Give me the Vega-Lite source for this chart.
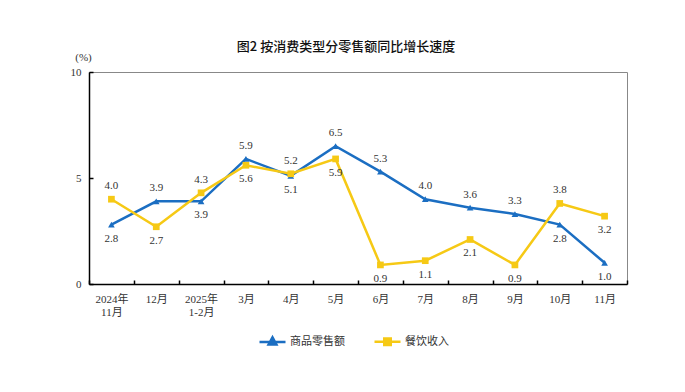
{
  "$schema": "https://vega.github.io/schema/vega-lite/v6.json",
  "width": 538,
  "height": 212,
  "autosize": {"type": "none"},
  "padding": {"left": 89, "top": 72, "right": 58, "bottom": 108},
  "background": "white",
  "title": {"text": "图2  按消费类型分零售额同比增长速度", "font": "Noto Sans CJK SC", "fontSize": 13, "fontWeight": 500, "color": "#111", "anchor": "middle", "dx": -12, "offset": -3},
  "config": {"view": {"stroke": "#888", "strokeWidth": 1}, "axis": {"grid": false}},
  "data": {"values": [
    {"month": "2024年|11月", "series": "商品零售额", "value": 2.8},
    {"month": "12月", "series": "商品零售额", "value": 3.9},
    {"month": "2025年|1-2月", "series": "商品零售额", "value": 3.9},
    {"month": "3月", "series": "商品零售额", "value": 5.9},
    {"month": "4月", "series": "商品零售额", "value": 5.1},
    {"month": "5月", "series": "商品零售额", "value": 6.5},
    {"month": "6月", "series": "商品零售额", "value": 5.3},
    {"month": "7月", "series": "商品零售额", "value": 4.0},
    {"month": "8月", "series": "商品零售额", "value": 3.6},
    {"month": "9月", "series": "商品零售额", "value": 3.3},
    {"month": "10月", "series": "商品零售额", "value": 2.8},
    {"month": "11月", "series": "商品零售额", "value": 1.0},
    {"month": "2024年|11月", "series": "餐饮收入", "value": 4.0},
    {"month": "12月", "series": "餐饮收入", "value": 2.7},
    {"month": "2025年|1-2月", "series": "餐饮收入", "value": 4.3},
    {"month": "3月", "series": "餐饮收入", "value": 5.6},
    {"month": "4月", "series": "餐饮收入", "value": 5.2},
    {"month": "5月", "series": "餐饮收入", "value": 5.9},
    {"month": "6月", "series": "餐饮收入", "value": 0.9},
    {"month": "7月", "series": "餐饮收入", "value": 1.1},
    {"month": "8月", "series": "餐饮收入", "value": 2.1},
    {"month": "9月", "series": "餐饮收入", "value": 0.9},
    {"month": "10月", "series": "餐饮收入", "value": 3.8},
    {"month": "11月", "series": "餐饮收入", "value": 3.2}
  ]},
  "encoding": {
    "x": {"field": "month", "type": "nominal", "sort": null,
      "scale": {"type": "band", "paddingInner": 0, "paddingOuter": 0},
      "axis": {"title": null, "labelAngle": 0, "labelExpr": "split(datum.label, '|')", "labelLineHeight": 13,
        "labelFont": "Liberation Serif, Noto Sans CJK SC", "labelFontSize": 11, "labelColor": "#333",
        "domainColor": "#000", "domainWidth": 1.5, "tickColor": "#000", "tickWidth": 1.5, "tickBand": "extent", "tickSize": -4, "labelPadding": 13}},
    "y": {"field": "value", "type": "quantitative",
      "scale": {"domain": [0, 10], "nice": false},
      "axis": {"values": [0, 5, 10], "title": "(%)", "titleAngle": 0, "titleX": -6, "titleY": -15, "titleAlign": "center", "titleBaseline": "middle",
        "titleFont": "Liberation Serif", "titleFontSize": 11, "titleFontWeight": "normal", "titleColor": "#333",
        "labelFont": "Liberation Serif", "labelFontSize": 11, "labelColor": "#333",
        "domainColor": "#000", "domainWidth": 1.5, "tickColor": "#000", "tickWidth": 1.5, "tickSize": -4, "labelPadding": 12}}
  },
  "layer": [
    {"mark": {"type": "line", "strokeWidth": 2.5},
      "encoding": {"color": {"field": "series", "type": "nominal",
        "scale": {"domain": ["商品零售额", "餐饮收入"], "range": ["#1b6ec2", "#f6c915"]},
        "legend": {"orient": "none", "legendX": 169, "legendY": 255, "direction": "horizontal", "title": null, "padding": 0,
          "symbolSize": 676, "symbolStrokeWidth": 2.5, "labelFont": "Noto Sans CJK SC", "labelFontSize": 11, "labelColor": "#333", "labelOffset": 3, "columnPadding": 24,
          "encode": {"symbols": {"update": {
            "shape": {"signal": "datum.value == '商品零售额' ? 'M -1 0 L 1 0 M 0 -0.35 L 0.3 0.2 L -0.3 0.2 Z' : 'M -1 0 L 1 0 M -0.25 -0.25 L 0.25 -0.25 L 0.25 0.25 L -0.25 0.25 Z'"},
            "fill": {"signal": "datum.value == '商品零售额' ? '#1b6ec2' : '#f6c915'"},
            "stroke": {"signal": "datum.value == '商品零售额' ? '#1b6ec2' : '#f6c915'"},
            "strokeWidth": {"value": 2.5},
            "opacity": {"value": 1}}}}}}}},
    {"transform": [{"filter": "datum.series == '商品零售额'"}],
      "mark": {"type": "point", "filled": true, "opacity": 1, "size": 45, "shape": "triangle-up", "color": "#1b6ec2"}},
    {"transform": [{"filter": "datum.series == '餐饮收入'"}],
      "mark": {"type": "point", "filled": true, "opacity": 1, "size": 45, "shape": "square", "color": "#f6c915"}},
    {"transform": [
        {"joinaggregate": [{"op": "max", "field": "value", "as": "mx"}], "groupby": ["month"]},
        {"filter": "datum.value == datum.mx && datum.month != '11月'"}],
      "mark": {"type": "text", "dy": -13, "font": "Liberation Serif", "fontSize": 11, "color": "#333"},
      "encoding": {"text": {"field": "value", "type": "quantitative", "format": ".1f"}}},
    {"transform": [
        {"joinaggregate": [{"op": "max", "field": "value", "as": "mx"}], "groupby": ["month"]},
        {"filter": "!(datum.value == datum.mx && datum.month != '11月')"}],
      "mark": {"type": "text", "dy": 14, "font": "Liberation Serif", "fontSize": 11, "color": "#333"},
      "encoding": {"text": {"field": "value", "type": "quantitative", "format": ".1f"}}}
  ]
}
